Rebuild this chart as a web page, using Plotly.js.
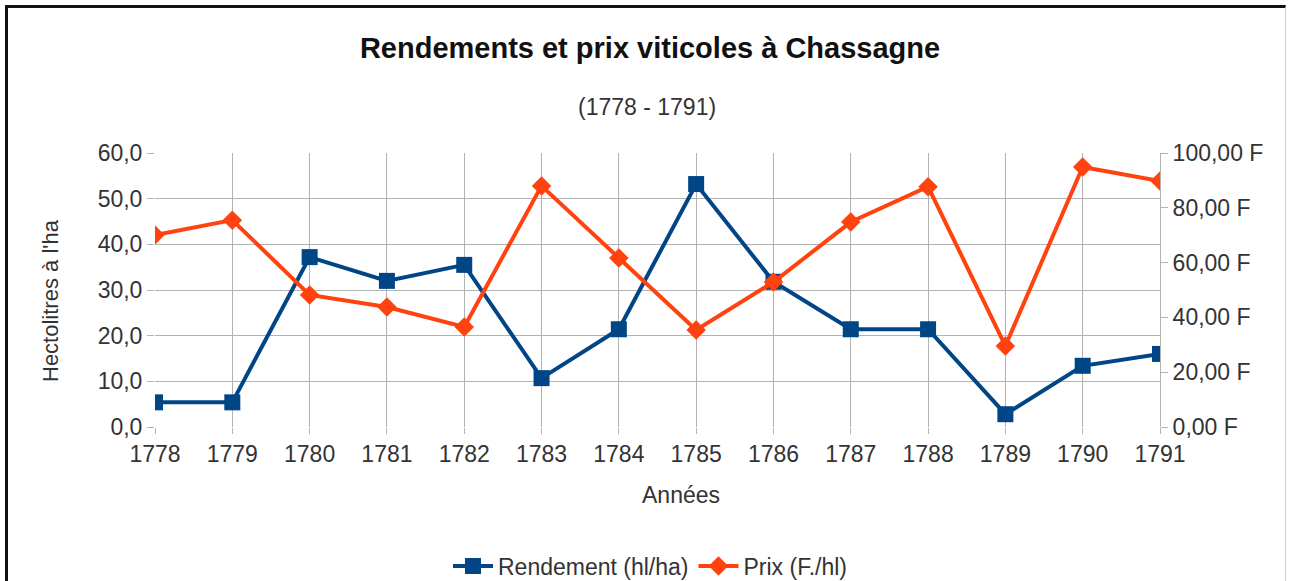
<!DOCTYPE html>
<html>
<head>
<meta charset="utf-8">
<script src="https://cdn.plot.ly/plotly-3.0.1.min.js"></script>
<style>
  html, body { margin: 0; padding: 0; background: #fff; }
  #wrap { position: relative; width: 1290px; height: 581px; overflow: hidden; }
  #frame { position: absolute; left: 5px; top: 5px; width: 1281px; height: 600px;
           border-left: 3px solid #111; border-top: 3px solid #111; border-right: 1px solid #ccc; box-sizing: border-box; }
  #chart { position: absolute; left: 0; top: 0; width: 1290px; height: 581px; }
</style>
</head>
<body>
<div id="wrap">
  <div id="chart"></div>
  <div id="frame"></div>
</div>
<script>
const years = [1778, 1779, 1780, 1781, 1782, 1783, 1784, 1785, 1786, 1787, 1788, 1789, 1790, 1791];
const rendement = [5.4, 5.4, 37.2, 32.0, 35.5, 10.7, 21.4, 53.2, 31.8, 21.4, 21.4, 2.8, 13.4, 16.0];
const prix = [70.1, 75.5, 48.2, 43.8, 36.5, 88.0, 61.7, 35.4, 52.9, 74.8, 87.7, 29.6, 94.9, 89.8];

const fontFam = '"Liberation Sans", Arial, sans-serif';
const txt = '#333333';
const fs = 23;

const traces = [
  {
    x: years, y: rendement, name: 'Rendement (hl/ha)', type: 'scatter', mode: 'lines+markers',
    line: { color: '#004586', width: 4 },
    marker: { symbol: 'square', size: 16, color: '#004586' },
    yaxis: 'y'
  },
  {
    x: years, y: prix, name: 'Prix (F./hl)', type: 'scatter', mode: 'lines+markers',
    line: { color: '#ff420e', width: 4 },
    marker: { symbol: 'diamond', size: 15, color: '#ff420e' },
    yaxis: 'y2'
  }
];

const layout = {
  width: 1290, height: 581,
  paper_bgcolor: '#ffffff', plot_bgcolor: '#ffffff',
  separators: ', ',
  font: { family: fontFam, color: txt, size: fs },
  margin: { l: 155, r: 130, t: 153, b: 154, pad: 0 },
  title: {
    text: 'Rendements et prix viticoles à Chassagne',
    font: { family: fontFam, size: 29, color: '#111', weight: 'bold' },
    x: 650 / 1290, xanchor: 'center', xref: 'container',
    y: 1 - 48 / 581, yanchor: 'middle', yref: 'container'
  },
  annotations: [
    {
      text: '(1778 - 1791)', xref: 'paper', yref: 'paper', x: (647 - 155) / 1005, y: (427 - 107) / 274,
      xanchor: 'center', yanchor: 'middle', showarrow: false,
      font: { family: fontFam, size: fs, color: txt }
    },
    {
      text: 'Années', xref: 'paper', yref: 'paper', x: (681 - 155) / 1005, y: (427 - 495) / 274,
      xanchor: 'center', yanchor: 'middle', showarrow: false,
      font: { family: fontFam, size: fs, color: txt }
    },
    {
      text: "Hectolitres à l'ha", xref: 'paper', yref: 'paper', x: (50 - 155) / 1005, y: (427 - 301) / 274,
      xanchor: 'center', yanchor: 'middle', showarrow: false, textangle: -90,
      font: { family: fontFam, size: 22, color: txt }
    }
  ],
  xaxis: {
    range: [1778, 1791], tickvals: years, ticktext: years.map(String),
    showgrid: true, gridcolor: '#b3b3b3', gridwidth: 1,
    ticks: 'outside', ticklen: 6, tickcolor: '#b3b3b3', tickwidth: 1,
    showline: false, zeroline: false, automargin: false,
    tickfont: { family: fontFam, size: fs, color: txt }
  },
  yaxis: {
    range: [0, 60], dtick: 10, tick0: 0, tickformat: '.1f',
    showgrid: true, gridcolor: '#b3b3b3', gridwidth: 1,
    ticks: 'outside', ticklen: 7, tickcolor: '#b3b3b3', tickwidth: 1,
    showline: false, zeroline: false, automargin: false,
    tickfont: { family: fontFam, size: fs, color: txt }
  },
  yaxis2: {
    range: [0, 100], dtick: 20, tick0: 0, tickformat: '.2f', ticksuffix: ' F',
    overlaying: 'y', side: 'right', showgrid: false,
    ticks: 'outside', ticklen: 7, tickcolor: '#b3b3b3', tickwidth: 1,
    showline: true, linecolor: '#b3b3b3', linewidth: 1, zeroline: false, automargin: false,
    tickfont: { family: fontFam, size: fs, color: txt }
  },
  showlegend: true,
  legend: {
    orientation: 'h', x: (650 - 155) / 1005, xanchor: 'center', xref: 'paper',
    y: 1 - 566 / 581, yanchor: 'middle', yref: 'container',
    font: { family: fontFam, size: fs, color: txt }, itemwidth: 40, bgcolor: 'rgba(0,0,0,0)'
  }
};

Plotly.newPlot('chart', traces, layout, { staticPlot: true, displayModeBar: false });
</script>
</body>
</html>
